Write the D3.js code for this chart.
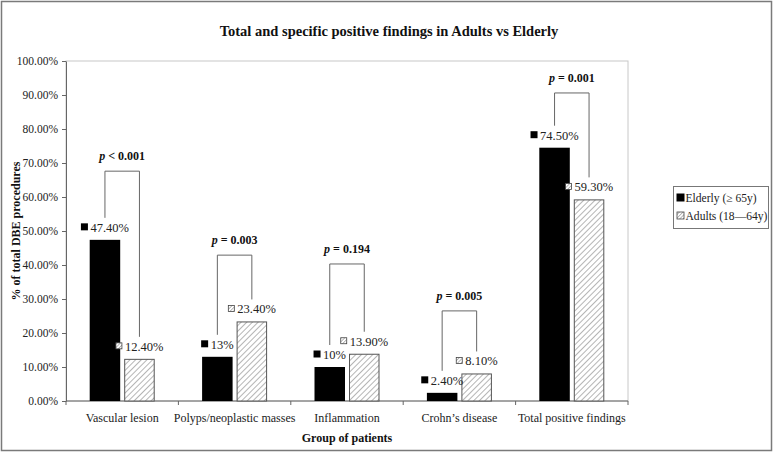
<!DOCTYPE html>
<html>
<head>
<meta charset="utf-8">
<script src="https://cdn.jsdelivr.net/npm/d3@7/dist/d3.min.js"></script>
<style>
  html, body { margin: 0; padding: 0; background: #fff; }
  svg { display: block; font-family: "Liberation Serif", "Times New Roman", serif; }
</style>
</head>
<body>
<svg id="chart" width="774" height="453"></svg>
<script>
// ---- data ----
const categories = ["Vascular lesion", "Polyps/neoplastic masses", "Inflammation", "Crohn\u2019s disease", "Total positive findings"];
const seriesNames = ["Elderly (\u2265 65y)", "Adults (18\u201464y)"];
const elderly = [47.4, 13.0, 10.0, 2.4, 74.5];
const adults = [12.4, 23.4, 13.9, 8.1, 59.3];
const elderlyLabels = ["47.40%", "13%", "10%", "2.40%", "74.50%"];
const adultsLabels = ["12.40%", "23.40%", "13.90%", "8.10%", "59.30%"];
const pSymbols = ["<", "=", "=", "=", "="];
const pValues = ["0.001", "0.003", "0.194", "0.005", "0.001"];
const bracketLevels = [67.6, 42.9, 40.3, 26.5, 90.6];
const yTicks = [0, 10, 20, 30, 40, 50, 60, 70, 80, 90, 100];

// ---- layout ----
const svg = d3.select("#chart");
const W = 774, H = 453;
const m = { left: 66, right: 146, top: 61, bottom: 52 };
const pw = W - m.left - m.right, ph = H - m.top - m.bottom;

// pattern
const defs = svg.append("defs");
const pat = defs.append("pattern")
  .attr("id", "hatch").attr("patternUnits", "userSpaceOnUse")
  .attr("width", 4).attr("height", 4)
  .attr("patternTransform", "rotate(45)");
pat.append("rect").attr("width", 4).attr("height", 4).attr("fill", "#fff");
pat.append("line").attr("x1", 0).attr("y1", 0).attr("x2", 0).attr("y2", 4)
  .attr("stroke", "#777").attr("stroke-width", 1.1);
const patS = defs.append("pattern")
  .attr("id", "hatchS").attr("patternUnits", "userSpaceOnUse")
  .attr("width", 2.5).attr("height", 2.5)
  .attr("patternTransform", "rotate(45)");
patS.append("rect").attr("width", 2.5).attr("height", 2.5).attr("fill", "#fff");
patS.append("line").attr("x1", 0).attr("y1", 0).attr("x2", 0).attr("y2", 2.5)
  .attr("stroke", "#666").attr("stroke-width", 0.9);

// outer border
svg.append("rect").attr("x", 1.5).attr("y", 1.5).attr("width", W - 4).attr("height", H - 4)
  .attr("fill", "#fff").attr("stroke", "#7a7a7a").attr("stroke-width", 1.5);

// title
svg.append("text").attr("x", 389).attr("y", 36).attr("text-anchor", "middle")
  .attr("font-size", 14.5).attr("font-weight", "bold").attr("fill", "#111")
  .text("Total and specific positive findings in Adults vs Elderly");

const g = svg.append("g").attr("transform", `translate(${m.left},${m.top})`);

const x = d3.scaleBand().domain(categories).range([0, pw]).paddingInner(0).paddingOuter(0);
const y = d3.scaleLinear().domain([0, 100]).range([ph, 0]);

// plot box
g.append("rect").attr("x", 0).attr("y", 0).attr("width", pw).attr("height", ph)
  .attr("fill", "none").attr("stroke", "#c8c8c8").attr("stroke-width", 1);

// axes
const yAxis = g.append("g").call(d3.axisLeft(y).tickValues(yTicks).tickSize(4).tickSizeOuter(0)
  .tickFormat(d => d.toFixed(2) + "%"));
yAxis.selectAll("text").attr("font-size", 11.5).attr("fill", "#222")
  .attr("font-family", "Liberation Serif").attr("x", -8);
yAxis.selectAll("line, path").attr("stroke", "#666");

// x axis with ticks at band boundaries
const xAxisG = g.append("g").attr("transform", `translate(0,${ph})`);
xAxisG.append("line").attr("x1", 0).attr("x2", pw).attr("stroke", "#666");
const bounds = categories.map(c => x(c)).concat([pw]);
xAxisG.selectAll("line.tk").data(bounds).enter().append("line").attr("class", "tk")
  .attr("x1", d => d).attr("x2", d => d).attr("y1", 0).attr("y2", 4).attr("stroke", "#666");
xAxisG.selectAll("text.xl").data(categories).enter().append("text").attr("class", "xl")
  .attr("x", d => x(d) + x.bandwidth() / 2).attr("y", 21).attr("text-anchor", "middle")
  .attr("font-size", 12).attr("fill", "#222").text(d => d);

// axis titles
svg.append("text").attr("x", m.left + pw / 2).attr("y", 442).attr("text-anchor", "middle")
  .attr("font-size", 12).attr("font-weight", "bold").attr("fill", "#111").text("Group of patients");
svg.append("text").attr("transform", `translate(20,${m.top + ph / 2}) rotate(-90)`)
  .attr("text-anchor", "middle").attr("font-size", 12).attr("font-weight", "bold").attr("fill", "#111")
  .text("% of total DBE procedures");

// bars
const bw = 30.5, gap = 4;
const bandC = c => x(c) + x.bandwidth() / 2;
const eX = c => bandC(c) - gap / 2 - bw;
const aX = c => bandC(c) + gap / 2;

const rows = categories.map((c, i) => ({ c, e: elderly[i], a: adults[i], el: elderlyLabels[i], al: adultsLabels[i],
  ps: pSymbols[i], pv: pValues[i], bl: bracketLevels[i] }));

g.selectAll("rect.e").data(rows).enter().append("rect").attr("class", "e")
  .attr("x", d => eX(d.c)).attr("width", bw).attr("y", d => y(d.e)).attr("height", d => ph - y(d.e))
  .attr("fill", "#000");
g.selectAll("rect.a").data(rows).enter().append("rect").attr("class", "a")
  .attr("x", d => aX(d.c) + 0.5).attr("width", bw - 1).attr("y", d => y(d.a) + 0.5).attr("height", d => ph - y(d.a) - 0.5)
  .attr("fill", "url(#hatch)").attr("stroke", "#555").attr("stroke-width", 1);

// data labels
function addLabel(cx, yTop, txt, type) {
  const lg = g.append("g");
  const t = lg.append("text").attr("y", yTop - 8).attr("font-size", 12.5).attr("fill", "#222").text(txt);
  const tw = t.node().getComputedTextLength();
  const sq = 7, sp = 2.5;
  const total = sq + sp + tw;
  const x0 = cx - total / 2;
  t.attr("x", x0 + sq + sp);
  if (type === "e") {
    lg.append("rect").attr("x", x0).attr("y", yTop - 16.5).attr("width", sq).attr("height", sq).attr("fill", "#000");
  } else {
    lg.append("rect").attr("x", x0 + 0.5).attr("y", yTop - 16).attr("width", sq - 1).attr("height", sq - 1)
      .attr("fill", "url(#hatchS)").attr("stroke", "#444").attr("stroke-width", 0.8);
  }
}
rows.forEach(d => {
  addLabel(eX(d.c) + bw / 2, y(d.e), d.el, "e");
  addLabel(aX(d.c) + bw / 2, y(d.a), d.al, "a");
});

// brackets and p-values
rows.forEach(d => {
  const xl = eX(d.c) + bw / 2, xr = aX(d.c) + bw / 2;
  const yt = y(d.bl);
  g.append("path")
    .attr("d", `M${xl},${y(d.e) - 22}V${yt}H${xr}V${y(d.a) - 22}`)
    .attr("fill", "none").attr("stroke", "#666").attr("stroke-width", 1);
  const t = g.append("text").attr("x", bandC(d.c)).attr("y", yt - 11).attr("text-anchor", "middle")
    .attr("font-size", 12).attr("font-weight", "bold").attr("fill", "#111");
  t.append("tspan").attr("font-style", "italic").text("p");
  t.append("tspan").text(" " + d.ps + " " + d.pv);
});

// legend
const lgX = 673.5, lgY = 186.5, lgW = 95;
const leg = svg.append("g");
leg.append("rect").attr("x", lgX).attr("y", lgY).attr("width", lgW).attr("height", 42)
  .attr("fill", "#fff").attr("stroke", "#777").attr("stroke-width", 1);
const legTexts = [];
seriesNames.forEach((s, i) => {
  const yy = lgY + 15 + i * 18;
  if (i === 0) {
    leg.append("rect").attr("x", lgX + 3).attr("y", yy - 8).attr("width", 8).attr("height", 8).attr("fill", "#000");
  } else {
    leg.append("rect").attr("x", lgX + 3.5).attr("y", yy - 7.5).attr("width", 7).attr("height", 7)
      .attr("fill", "url(#hatchS)").attr("stroke", "#444").attr("stroke-width", 0.8);
  }
  legTexts.push(leg.append("text").attr("x", lgX + 12).attr("y", yy).attr("font-size", 12.5).attr("fill", "#222").text(s));
});
const avail = lgW - 13;
const maxW = d3.max(legTexts, t => t.node().getComputedTextLength());
if (maxW > avail) legTexts.forEach(t => t.attr("font-size", 12.5 * avail / maxW));
</script>
</body>
</html>
